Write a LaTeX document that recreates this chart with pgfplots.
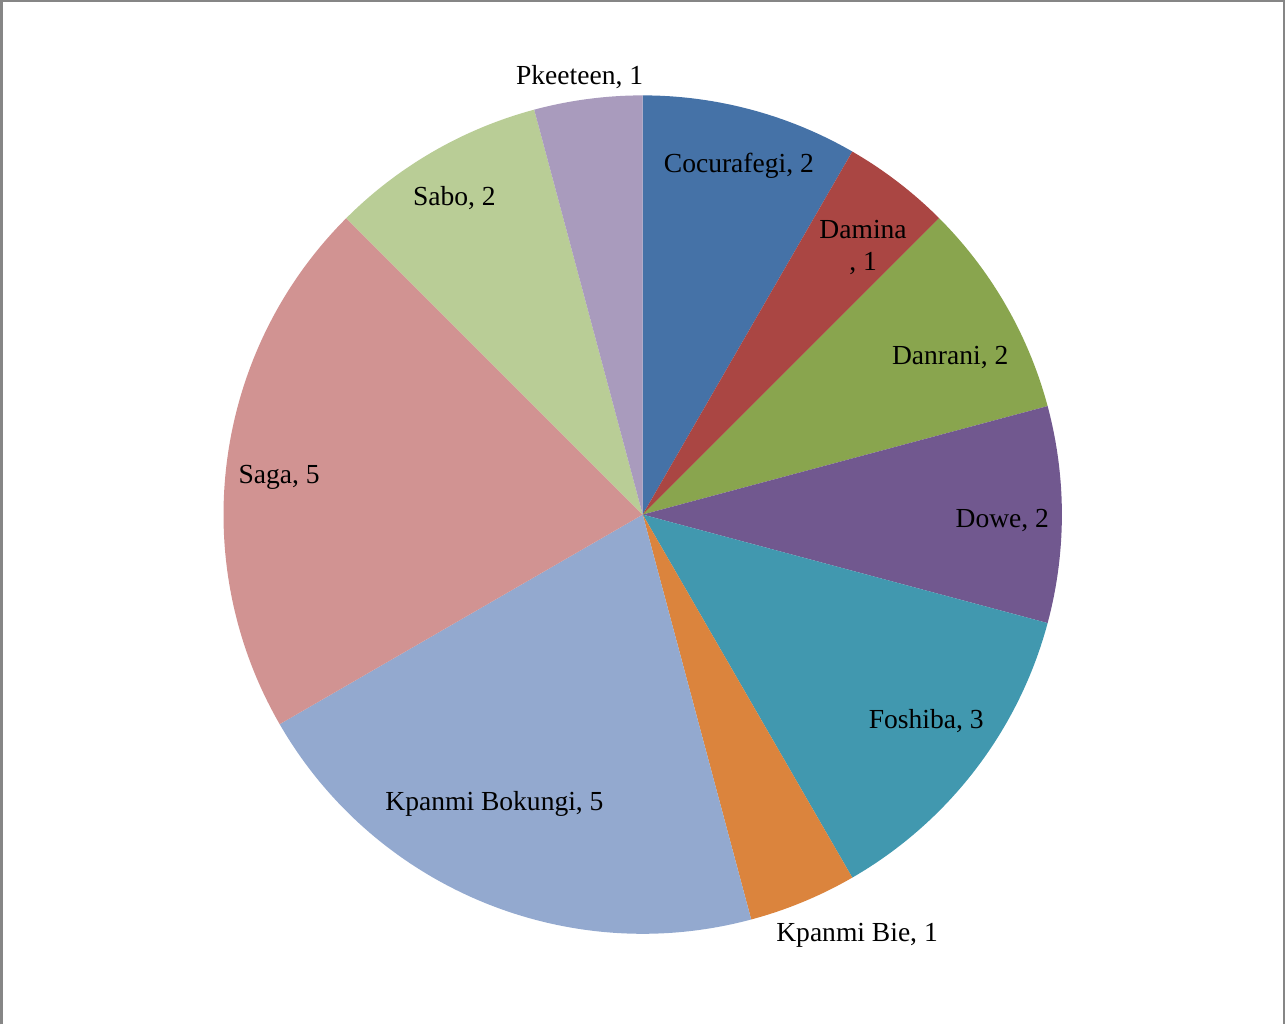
\documentclass[border=0pt]{standalone}
\usepackage{pgfplots}
\pgfplotsset{compat=1.18}
\usepackage{fontspec}
\setmainfont{Liberation Serif}
\definecolor{c1}{HTML}{4572A7}
\definecolor{c2}{HTML}{AA4643}
\definecolor{c3}{HTML}{89A54E}
\definecolor{c4}{HTML}{71588F}
\definecolor{c5}{HTML}{4198AF}
\definecolor{c6}{HTML}{DB843D}
\definecolor{c7}{HTML}{93A9CF}
\definecolor{c8}{HTML}{D19392}
\definecolor{c9}{HTML}{B9CD96}
\definecolor{c10}{HTML}{A99BBD}
\def\total{24}
\gdef\cum{0}
\newcommand\slice[2]{%
  \pgfmathsetmacro\sa{90-\cum*360/\total}%
  \pgfmathsetmacro\ea{90-(\cum+#1)*360/\total}%
  \edef\tmp{\noexpand\fill[#2] (axis cs:643,509) -- ++(\sa:418.5pt) arc[start angle=\sa, end angle=\ea, radius=418.5pt] -- cycle;}%
  \tmp
  \pgfmathsetmacro\newcum{\cum+#1}%
  \xdef\cum{\newcum}%
}
\begin{document}
\begin{tikzpicture}[font=\fontsize{27.5}{32}\selectfont]
\begin{axis}[
  width=1285pt, height=1024pt, scale only axis,
  xmin=0, xmax=1285, ymin=0, ymax=1024,
  hide axis, clip=false]
\slice{2}{c1}
\slice{1}{c2}
\slice{2}{c3}
\slice{2}{c4}
\slice{3}{c5}
\slice{1}{c6}
\slice{5}{c7}
\slice{5}{c8}
\slice{2}{c9}
\slice{1}{c10}
\draw[gray!95, line width=2.5pt] (axis cs:2.6,0) -- (axis cs:2.6,1021.5) -- (axis cs:1283,1021.5) -- (axis cs:1283,0);
\node at (axis cs:580,946) {Pkeeteen, 1};
\node at (axis cs:739,857) {Cocurafegi, 2};
\node[align=center] at (axis cs:863,776) {Damina\\, 1};
\node at (axis cs:950,666) {Danrani, 2};
\node at (axis cs:1002,503.5) {Dowe, 2};
\node at (axis cs:926,302.5) {Foshiba, 3};
\node at (axis cs:857,88.5) {Kpanmi Bie, 1};
\node at (axis cs:495,220.5) {Kpanmi Bokungi, 5};
\node at (axis cs:280,546.5) {Saga, 5};
\node at (axis cs:455,824.5) {Sabo, 2};
\end{axis}
\end{tikzpicture}
\end{document}
